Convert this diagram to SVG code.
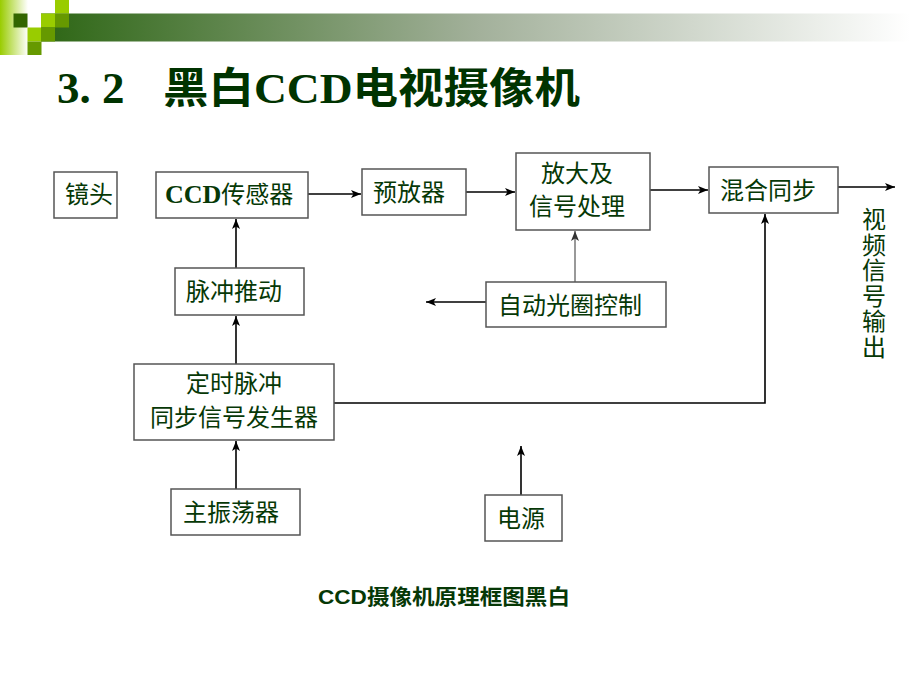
<svg xmlns="http://www.w3.org/2000/svg" width="920" height="690" viewBox="0 0 920 690">
<defs>
<linearGradient id="barGrad" x1="41" y1="0" x2="910" y2="0" gradientUnits="userSpaceOnUse">
<stop offset="0" stop-color="#2d6614"/>
<stop offset="0.5" stop-color="#a2b09a"/>
<stop offset="1" stop-color="#ffffff"/>
</linearGradient>
<linearGradient id="stripGrad" x1="0" y1="0" x2="28" y2="0" gradientUnits="userSpaceOnUse">
<stop offset="0" stop-color="#99cc00"/>
<stop offset="1" stop-color="#ffffff"/>
</linearGradient>
<marker id="arr" markerUnits="userSpaceOnUse" markerWidth="11" markerHeight="9" refX="10" refY="4" orient="auto">
<path d="M0,0 L10,4 L0,8 L2.5,4 Z" fill="#000"/>
</marker>
<marker id="arrg" markerUnits="userSpaceOnUse" markerWidth="11" markerHeight="9" refX="10" refY="4" orient="auto">
<path d="M0,0 L10,4 L0,8 L2.5,4 Z" fill="#333"/>
</marker>
</defs>
<style>
.box{fill:#fff;stroke:#555;stroke-width:1.5}
.lbl{font-family:"Noto Sans CJK SC","Noto Sans",sans-serif;font-size:24px;fill:#063806}
.lat{font-family:"Liberation Serif",serif;font-weight:bold;font-size:26px}
.title{font-family:"Liberation Serif","Noto Sans CJK SC",serif;font-weight:bold;font-size:42px;fill:#003300}
.cap{font-family:"Liberation Sans","Noto Sans CJK SC",sans-serif;font-weight:bold;font-size:21px;fill:#063806}
.wire{fill:none;stroke:#000;stroke-width:1.6}
.wireg{fill:none;stroke:#555;stroke-width:1.2}
</style>

<g id="decoration">
<rect x="0" y="0" width="28" height="55" fill="url(#stripGrad)"/>
<rect x="41" y="13.5" width="869" height="28" fill="url(#barGrad)"/>
<rect x="13.5" y="13.5" width="14" height="14" fill="#336600"/>
<rect x="55" y="0" width="14" height="13.5" fill="#99cc00"/>
<rect x="41" y="13.5" width="14" height="14" fill="#99cc00"/>
<rect x="55" y="13.5" width="14" height="14" fill="#669900"/>
<rect x="27.5" y="27.5" width="14" height="14" fill="#99cc00"/>
<rect x="41" y="27.5" width="14" height="14" fill="#669900"/>
<rect x="27.5" y="41.5" width="14" height="13.5" fill="#669900"/>
</g>

<g id="title">
<text class="title" x="57" y="103" style="font-size:45px">3. 2</text>
<text class="title" x="163" y="103" textLength="417" lengthAdjust="spacingAndGlyphs">黑白CCD电视摄像机</text>
</g>

<g id="connectors">
<line class="wire" x1="308" y1="194" x2="361" y2="194" marker-end="url(#arr)"/>
<line class="wire" x1="466" y1="192" x2="515" y2="192" marker-end="url(#arr)"/>
<line class="wire" x1="650" y1="190" x2="708" y2="190" marker-end="url(#arr)"/>
<line class="wire" x1="838" y1="187" x2="895" y2="187" marker-end="url(#arr)"/>
<line class="wire" x1="236" y1="268" x2="236" y2="219" marker-end="url(#arr)"/>
<line class="wire" x1="236" y1="364" x2="236" y2="316" marker-end="url(#arr)"/>
<line class="wire" x1="236" y1="489" x2="236" y2="441" marker-end="url(#arr)"/>
<polyline class="wire" points="334,403 765,403 765,214" marker-end="url(#arr)"/>
<line class="wireg" x1="575" y1="282" x2="575" y2="231" marker-end="url(#arrg)"/>
<line class="wire" x1="486" y1="302" x2="426" y2="302" marker-end="url(#arr)"/>
<line class="wire" x1="521" y1="495" x2="521" y2="446" marker-end="url(#arr)"/>
</g>

<g id="lens">
<rect class="box" x="54" y="172" width="63" height="46"/>
<text class="lbl" x="65" y="203">镜头</text>
</g>
<g id="ccd-sensor">
<rect class="box" x="156" y="172" width="152" height="46"/>
<text class="lbl" x="165" y="203"><tspan class="lat">CCD</tspan>传感器</text>
</g>
<g id="preamp">
<rect class="box" x="362" y="169" width="104" height="46"/>
<text class="lbl" x="373" y="201">预放器</text>
</g>
<g id="amp-proc">
<rect class="box" x="516" y="153" width="134" height="77"/>
<text class="lbl" text-anchor="middle"><tspan x="577" y="182">放大及</tspan><tspan x="577" y="215">信号处理</tspan></text>
</g>
<g id="mix-sync">
<rect class="box" x="709" y="167" width="129" height="46"/>
<text class="lbl" x="720" y="199">混合同步</text>
</g>
<g id="video-out">
<text class="lbl" x="874" y="207" style="writing-mode:vertical-rl;letter-spacing:1.5px">视频信号输出</text>
</g>
<g id="pulse-drive">
<rect class="box" x="175" y="268" width="129" height="47"/>
<text class="lbl" x="186" y="300">脉冲推动</text>
</g>
<g id="iris-ctrl">
<rect class="box" x="486" y="282" width="180" height="45"/>
<text class="lbl" x="498" y="314">自动光圈控制</text>
</g>
<g id="timing-gen">
<rect class="box" x="134" y="364" width="200" height="76"/>
<text class="lbl" text-anchor="middle"><tspan x="234" y="392">定时脉冲</tspan><tspan x="234" y="426">同步信号发生器</tspan></text>
</g>
<g id="master-osc">
<rect class="box" x="171" y="489" width="129" height="46"/>
<text class="lbl" x="183" y="521">主振荡器</text>
</g>
<g id="power">
<rect class="box" x="485" y="495" width="77" height="46"/>
<text class="lbl" x="497" y="527">电源</text>
</g>

<g id="caption">
<text class="cap" x="318" y="604" textLength="252" lengthAdjust="spacingAndGlyphs">CCD摄像机原理框图黑白</text>
</g>
</svg>
